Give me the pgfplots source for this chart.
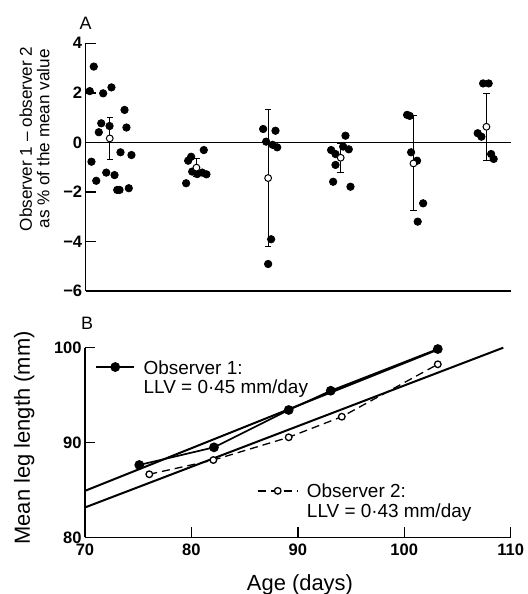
\documentclass[border=0pt]{standalone}
\usepackage{fontspec}
\setmainfont{Liberation Sans}
\usepackage{pgfplots}
\pgfplotsset{compat=1.18}

\pgfplotsset{
  panel/.style={
    scale only axis,
    xmin=70, xmax=110,
    axis x line*=bottom, axis y line*=left,
    tick align=inside, major tick length=5bp,
    tick style={line width=0.7pt, black},
    axis line style={line width=0.7pt},
    tick label style={font=\fontsize{8.3}{10}\selectfont\bfseries},
    yticklabel style={inner sep=1.5pt},
    clip=false,
  },
  key/.style={
    legend cell align=left,
    legend style={draw=none, fill=none, inner sep=0pt, row sep=0pt,
      font=\fontsize{9.5}{9.5}\selectfont,
      nodes={inner sep=0.5pt, text height=6.8pt, text depth=2.2pt},
      /tikz/every odd column/.append style={column sep=3.8bp}},
  },
}

\begin{document}
\begin{tikzpicture}
\path[use as bounding box] (0,0) rectangle (264bp,-297bp);

% A: difference between observers
\begin{axis}[panel,
  at={(42.75bp,-145.5bp)}, anchor=south west,
  width=212.75bp, height=123.85bp,
  ymin=-6, ymax=4,
  xtick=\empty,
  ytick={-6,-4,-2,0,2,4}, yticklabels={−6,−4,−2,0,2,4},
  every axis y label/.style={at={(rel axis cs:-0.12,0.614)}, rotate=90,
    anchor=center, align=center, font=\fontsize{8.6}{8.8}\selectfont},
  ylabel={Observer 1 – observer 2\\as \% of the mean value},
]
\addplot[black, line width=0.5pt] coordinates {(70,0) (110,0)};
\addplot[only marks, mark=*, mark size=1.85bp, black] coordinates {
 (70.40,2.07) (70.78,3.06) (71.66,1.98) (72.44,2.22) (73.67,1.31) (73.85,0.60)
 (71.48,0.77) (72.26,0.66) (71.25,0.41) (70.56,-0.78) (71.01,-1.55) (71.95,-1.22)
 (72.73,-1.32) (73.29,-0.40) (74.32,-0.51) (72.98,-1.92) (73.20,-1.92) (74.07,-1.85)
 (79.46,-1.65) (79.65,-0.74) (79.93,-0.58) (81.12,-0.31) (80.03,-1.18) (80.50,-1.28)
 (80.97,-1.22) (81.37,-1.29)
 (86.70,0.54) (87.86,0.47) (86.98,0.03) (87.60,-0.10) (88.02,-0.20) (87.45,-3.91)
 (87.17,-4.91)
 (94.44,0.27) (93.09,-0.31) (93.50,-0.47) (94.22,-0.17) (94.75,-0.28) (93.50,-0.91)
 (93.28,-1.59) (94.91,-1.79)
 (100.23,1.11) (100.48,1.07) (100.61,-0.40) (101.17,-0.74) (101.74,-2.46) (101.23,-3.20)
 (107.38,2.38) (107.90,2.38) (106.87,0.37) (107.22,0.23) (108.13,-0.47) (108.37,-0.67)
};
\addplot[only marks, mark=*, mark size=1.7bp, black, line width=0.5pt,
  mark options={fill=white},
  error bars/.cd, y dir=both, y explicit,
  error bar style={line width=0.5pt, black},
  error mark options={rotate=90, mark size=1.6bp, line width=0.5pt, black}]
  coordinates {
 (72.28,0.16) +- (0,0.84)
 (80.43,-1.02) +- (0,0.35)
 (87.17,-1.44) +- (0,2.75)
 (93.99,-0.62) +- (0,0.59)
 (100.83,-0.85) +- (0,1.92)
 (107.69,0.63) +- (0,1.35)
};
\node[font=\fontsize{9}{10}\selectfont] at (rel axis cs:0,1.08) {A};
\end{axis}

% B: mean leg length against age
\begin{axis}[panel, key,
  at={(42.5bp,-268.65bp)}, anchor=south west,
  width=212.85bp, height=94.8bp,
  ymin=80, ymax=100,
  xtick={70,80,90,100,110}, xticklabels={70,80,90,100,110},
  ytick={80,90,100}, yticklabels={80,90,100},
  every axis y label/.style={at={(rel axis cs:-0.143,0.524)}, rotate=90,
    anchor=center, font=\fontsize{11}{12}\selectfont},
  ylabel={Mean leg length (mm)},
  every axis x label/.style={at={(rel axis cs:0.505,-0.282)}, anchor=base,
    font=\fontsize{11}{12}\selectfont},
  xlabel={Age (days)},
  legend image code/.code={\draw[mark repeat=2, mark phase=2, yshift=1.2bp, #1]
    plot coordinates {(0bp,0bp) (9.5bp,0bp) (19bp,0bp)};},
  legend style={at={(rel axis cs:0.0235,0.94)}, anchor=north west},
]
\addplot[black, line width=1bp, forget plot] coordinates {(70,84.9) (103.15,99.8)};
\addplot[black, line width=1bp, forget plot] coordinates {(70,83.15) (109.3,100)};
\addplot[black, line width=0.85bp, mark=*, mark size=2bp] coordinates {
 (75.10,87.63) (82.12,89.49) (89.14,93.43) (93.09,95.46) (103.15,99.86)};
\addlegendentry{Observer 1:}
\addlegendimage{empty legend}
\addlegendentry{LLV = 0·45 mm/day}
\addplot[black, line width=0.65bp, dash pattern=on 4bp off 2.5bp, mark=*,
  mark size=1.65bp, mark options={solid, fill=white}, forget plot] coordinates {
 (76.04,86.65) (82.06,88.15) (89.14,90.55) (94.13,92.72) (103.15,98.25)};
\node[font=\fontsize{9}{10}\selectfont] at (rel axis cs:0.005,1.13) {B};
\end{axis}

% second key of panel B
\begin{axis}[key,
  at={(42.5bp,-268.65bp)}, anchor=south west,
  scale only axis, width=212.85bp, height=94.8bp,
  xmin=70, xmax=110, ymin=80, ymax=100, hide axis,
  legend image code/.code={\draw[mark repeat=2, mark phase=2, yshift=1.2bp, #1]
    plot coordinates {(0bp,0bp) (10bp,0bp) (20bp,0bp)};},
  legend style={at={(rel axis cs:0.4033,0.287)}, anchor=north west},
]
\addlegendimage{black, line width=0.65bp, dash pattern=on 4bp off 2.5bp, mark=*,
  mark size=1.65bp, mark options={solid, fill=white}}
\addlegendentry{Observer 2:}
\addlegendimage{empty legend}
\addlegendentry{LLV = 0·43 mm/day}
\end{axis}
\end{tikzpicture}
\end{document}
